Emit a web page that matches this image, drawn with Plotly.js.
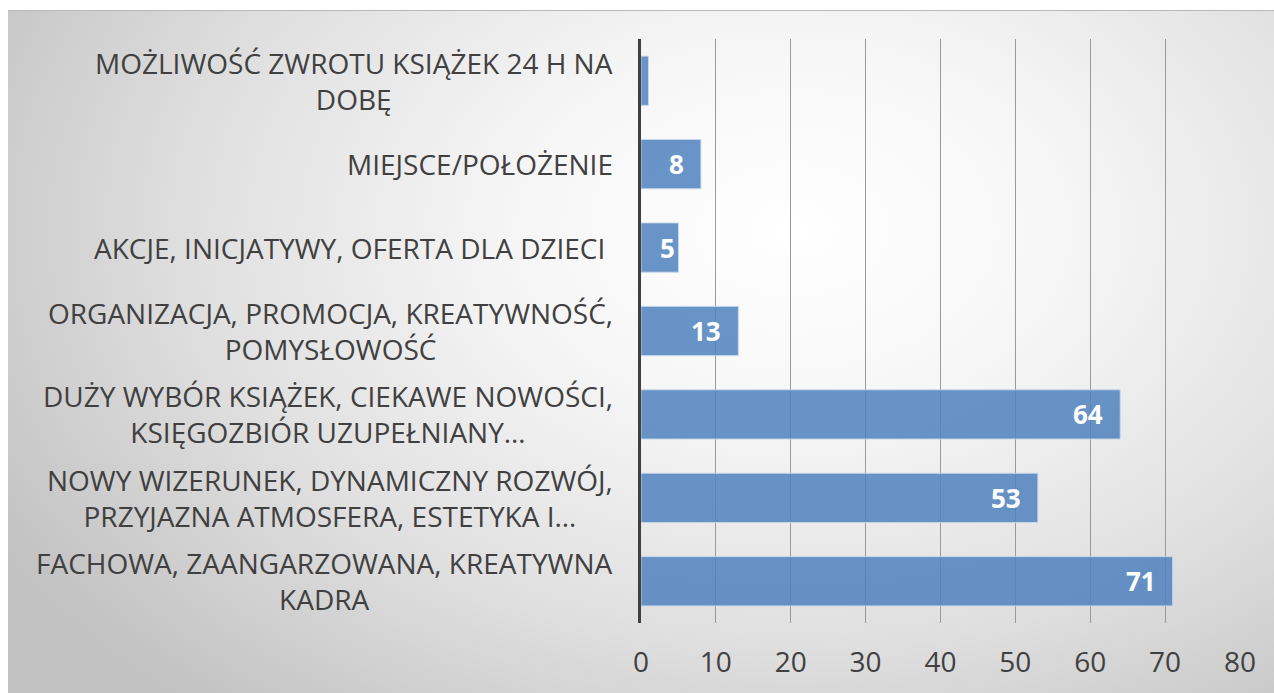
<!DOCTYPE html>
<html>
<head>
<meta charset="utf-8">
<script src="https://cdn.plot.ly/plotly-3.0.1.min.js"></script>
<style>
  html, body { margin: 0; padding: 0; background: #ffffff; width: 1274px; height: 693px; overflow: hidden; }
  #bg { position: absolute; left: 8px; top: 10px; width: 1266px; height: 683px;
        background: radial-gradient(ellipse 72% 92% at 62% 32%, #ffffff 0%, #f6f6f6 30%, #e0e0e0 65%, #c2c2c2 100%);
        border-top: 1px solid #b8b8b8; }
  #chart { position: absolute; left: 0; top: 0; width: 1274px; height: 693px; }
</style>
</head>
<body>
<div id="bg"></div>
<div id="chart"></div>
<script>
const categories = [
  "MOŻLIWOŚĆ ZWROTU KSIĄŻEK 24 H NA<br>DOBĘ",
  "MIEJSCE/POŁOŻENIE",
  "AKCJE, INICJATYWY, OFERTA DLA DZIECI ",
  "ORGANIZACJA, PROMOCJA, KREATYWNOŚĆ,<br>POMYSŁOWOŚĆ",
  "DUŻY WYBÓR KSIĄŻEK, CIEKAWE NOWOŚCI,<br>KSIĘGOZBIÓR UZUPEŁNIANY…",
  "NOWY WIZERUNEK, DYNAMICZNY ROZWÓJ,<br>PRZYJAZNA ATMOSFERA, ESTETYKA I…",
  "FACHOWA, ZAANGARZOWANA, KREATYWNA<br>KADRA"
];
const values = [1, 8, 5, 13, 64, 53, 71];
const tickValues = [0, 10, 20, 30, 40, 50, 60, 70, 80];

const font = "'Open Sans', 'DejaVu Sans', sans-serif";

const trace = {
  type: 'bar',
  orientation: 'h',
  x: values,
  y: categories,
  marker: { color: 'rgba(79,129,189,0.85)', line: { color: 'rgba(200,215,235,0.9)', width: 1 } },
  hoverinfo: 'none'
};

const annotations = [];
categories.forEach((c, i) => {
  annotations.push({
    xref: 'paper', yref: 'y', x: 0, y: c, xanchor: 'right', yanchor: 'middle',
    xshift: -26, text: c, showarrow: false, align: 'center',
    font: { family: font, size: 28, color: '#404040' }
  });
  const v = values[i];
  if (v >= 3) {
    const narrow = v < 7;
    annotations.push({
      xref: 'x', yref: 'y', x: narrow ? 0 : v, y: c,
      xanchor: narrow ? 'left' : 'right', yanchor: 'middle',
      xshift: narrow ? 17 : -15, text: String(v), showarrow: false,
      font: { family: font, size: 26, color: '#ffffff', weight: 'bold' }
    });
  }
});

const layout = {
  width: 1274, height: 693,
  margin: { l: 641, r: 34, t: 39, b: 70, pad: 0 },
  paper_bgcolor: 'rgba(0,0,0,0)',
  plot_bgcolor: 'rgba(0,0,0,0)',
  showlegend: false,
  bargap: 0.41,
  xaxis: {
    range: [0, 80], tickvals: tickValues, ticktext: tickValues.map(String),
    showgrid: true, gridcolor: '#9a9a9a', gridwidth: 1, zeroline: false,
    showline: false, ticks: '', ticklabelstandoff: 20,
    tickfont: { family: font, size: 28, color: '#404040' }, fixedrange: true
  },
  yaxis: {
    autorange: 'reversed', showticklabels: false, showgrid: false, zeroline: false,
    showline: true, linecolor: '#404040', linewidth: 3, ticks: '', fixedrange: true
  },
  annotations: annotations
};

Plotly.newPlot('chart', [trace], layout, { displayModeBar: false, staticPlot: true });
</script>
</body>
</html>
